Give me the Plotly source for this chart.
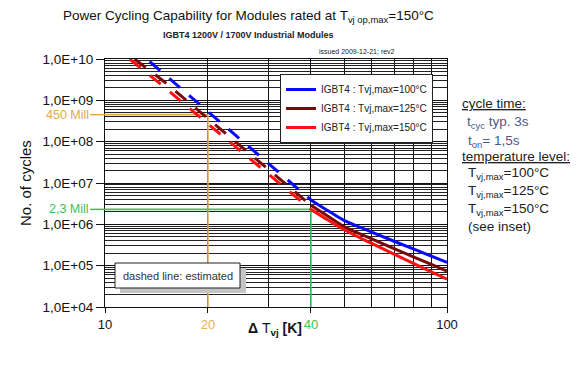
import math
import plotly.graph_objects as go

# ---------------- data ----------------
blue_est_x = [13.5, 15, 20, 25, 30, 35, 40]
blue_est_y = [8.7e9, 4.1e9, 5.4e8, 1.1e8, 3.0e7, 1.0e7, 3.9e6]
brown_est_x = [12.2, 15, 20, 25, 30, 35, 40]
brown_est_y = [1.0e10, 2.7e9, 3.6e8, 7.8e7, 2.2e7, 7.4e6, 2.9e6]
red_est_x = [11.8, 15, 20, 25, 30, 35, 40]
red_est_y = [1.0e10, 2.0e9, 2.7e8, 5.9e7, 1.7e7, 5.8e6, 2.3e6]

meas_x = [40, 45, 50, 60, 70, 80, 90, 100]
blue_y = [3.9e6, 2.1e6, 1.25e6, 6.6e5, 3.9e5, 2.5e5, 1.7e5, 1.2e5]
brown_y = [2.9e6, 1.55e6, 8.8e5, 4.5e5, 2.6e5, 1.62e5, 1.07e5, 7.4e4]
red_y = [2.3e6, 1.25e6, 7.4e5, 3.5e5, 1.9e5, 1.12e5, 7.1e4, 4.7e4]

series_names = ["IGBT4 : Tvj,max=100°C", "IGBT4 : Tvj,max=125°C", "IGBT4 : Tvj,max=150°C"]
series_colors = ["#0a0aff", "#7a0a0a", "#ff1010"]

ref_x = [20, 40]
ref_y = [4.5e8, 2.3e6]
ref_labels = ["450 Mill", "2,3 Mill"]
ref_colors = ["#e6a84a", "#3cc062"]

y_decades = [1e4, 1e5, 1e6, 1e7, 1e8, 1e9, 1e10]
y_labels = ["1,0E+04", "1,0E+05", "1,0E+06", "1,0E+07", "1,0E+08", "1,0E+09", "1,0E+10"]
x_major = [10, 20, 40, 100]
x_major_text = ["10", "<span style='color:#e6b060'>20</span>",
                "<span style='color:#3cc062'>40</span>", "100"]
x_minor = [30, 50, 60, 70, 80, 90]

# ---------------- geometry helpers (page pixel coords; body margin 8px) ----------------
OFF = 8
PL, PR, PT, PB = 105, 447, 59, 307          # plot area in page pixels
W, H = 587 - 2 * OFF, 375 - 2 * OFF
L, R, T, B = PL - OFF, PR - OFF, PT - OFF, PB - OFF
def px(x): return (x - PL) / (PR - PL)
def py(y): return (PB - y) / (PB - PT)

FONT = "Liberation Sans, Arial, sans-serif"

fig = go.Figure()

# reference lines (drawn under curves)
for k in range(2):
    fig.add_trace(go.Scatter(x=[ref_x[k], ref_x[k]], y=[1e4, ref_y[k]], mode="lines",
                             line=dict(color=ref_colors[k], width=1.6), showlegend=False,
                             hoverinfo="skip"))
    fig.add_trace(go.Scatter(x=[10, ref_x[k]], y=[ref_y[k], ref_y[k]], mode="lines",
                             line=dict(color=ref_colors[k], width=1.6), showlegend=False,
                             hoverinfo="skip"))

est = [(blue_est_x, blue_est_y), (brown_est_x, brown_est_y), (red_est_x, red_est_y)]
meas = [blue_y, brown_y, red_y]
for i in range(3):
    fig.add_trace(go.Scatter(x=est[i][0], y=est[i][1], mode="lines",
                             line=dict(color=series_colors[i], width=3, dash="14px,12px"),
                             showlegend=False, hoverinfo="skip"))
for i in range(3):
    fig.add_trace(go.Scatter(x=meas_x, y=meas[i], mode="lines", name=series_names[i],
                             line=dict(color=series_colors[i], width=3, shape="spline",
                                       smoothing=1.0)))

shapes = []
annotations = []
for k in range(2):
    shapes.append(dict(type="line", xref="paper", yref="y",
                       x0=px(90), x1=0, y0=ref_y[k], y1=ref_y[k],
                       line=dict(color=ref_colors[k], width=1.5)))
    annotations.append(dict(xref="paper", yref="y", x=px(91), y=math.log10(ref_y[k]),
                            text=ref_labels[k], showarrow=False, xanchor="right", yanchor="middle",
                            font=dict(family=FONT, size=12.5, color=ref_colors[k])))

# "dashed line: estimated" box with shadow
shapes.append(dict(type="rect", xref="paper", yref="paper", x0=px(120), x1=px(246),
                   y0=py(293), y1=py(268), fillcolor="#c4c4c4", line=dict(width=0), layer="above"))
shapes.append(dict(type="rect", xref="paper", yref="paper", x0=px(115), x1=px(240),
                   y0=py(288), y1=py(263), fillcolor="white", line=dict(color="#222", width=1),
                   layer="above"))
annotations.append(dict(xref="paper", yref="paper", x=px(177.5), y=py(275.5),
                        text="dashed line: estimated", showarrow=False, xanchor="center",
                        yanchor="middle", font=dict(family=FONT, size=11, color="#333")))

# titles
annotations.append(dict(xref="paper", yref="paper", x=px(248), y=py(17),
                        text="Power Cycling Capability for Modules rated at T<sub>vj op,max</sub>=150°C",
                        showarrow=False, xanchor="center", yanchor="middle",
                        font=dict(family=FONT, size=13.5, color="#111")))
annotations.append(dict(xref="paper", yref="paper", x=px(248), y=py(35),
                        text="<b>IGBT4 1200V / 1700V Industrial Modules</b>",
                        showarrow=False, xanchor="center", yanchor="middle",
                        font=dict(family=FONT, size=9, color="#222")))
annotations.append(dict(xref="paper", yref="paper", x=px(397), y=py(52),
                        text="issued 2009-12-21; rev2", showarrow=False, xanchor="right",
                        yanchor="middle", font=dict(family=FONT, size=7, color="#222")))
annotations.append(dict(xref="paper", yref="paper", x=px(25), y=py(183), text="No. of cycles",
                        textangle=-90, showarrow=False, xanchor="center", yanchor="middle",
                        font=dict(family=FONT, size=15, color="#111")))
annotations.append(dict(xref="paper", yref="paper", x=px(275), y=py(329),
                        text="<b>Δ</b> T<sub><b>vj</b></sub> <b>[K]</b>", showarrow=False,
                        xanchor="center", yanchor="middle",
                        font=dict(family=FONT, size=14, color="#111")))

# right-hand notes
notes = [
    (460, 104, "<u>cycle time:</u>", "#222"),
    (465, 122, "t<sub>cyc</sub> typ. 3s", "#4c5a86"),
    (466, 141, "t<sub>on</sub>= 1,5s", "#4c5a86"),
    (460, 156, "<u>temperature level:</u>", "#222"),
    (466, 173, "T<sub>vj,max</sub>=100°C", "#222"),
    (466, 191, "T<sub>vj,max</sub>=125°C", "#222"),
    (466, 209, "T<sub>vj,max</sub>=150°C", "#222"),
    (466, 226, "(see inset)", "#222"),
]
for x0, y0, t, c in notes:
    annotations.append(dict(xref="paper", yref="paper", x=px(x0), y=py(y0), text=t, showarrow=False,
                            xanchor="left", yanchor="middle",
                            font=dict(family=FONT, size=13.5, color=c)))

y_minor = [m * d for d in y_decades[:-1] for m in range(2, 10)]

fig.update_layout(
    width=W, height=H,
    margin=dict(l=L, r=W - R, t=T, b=H - B, autoexpand=False),
    paper_bgcolor="white", plot_bgcolor="white",
    font=dict(family=FONT, color="#111"),
    shapes=shapes, annotations=annotations,
    showlegend=True,
    legend=dict(x=px(280), y=py(74), xanchor="left", yanchor="top",
                bgcolor="white", bordercolor="#222", borderwidth=1,
                font=dict(family=FONT, size=10, color="#222"),
                tracegroupgap=0, itemwidth=30),
    xaxis=dict(type="log", range=[1, 2], tickmode="array", tickvals=x_major, ticktext=x_major_text,
               showgrid=True, gridcolor="#111", gridwidth=1.2,
               ticks="outside", ticklen=5, tickcolor="#111",
               showline=True, linecolor="#111", linewidth=1.2, mirror=True,
               tickfont=dict(family=FONT, size=13, color="#111"),
               minor=dict(tickmode="array", tickvals=x_minor, showgrid=True,
                          gridcolor="#111", gridwidth=1.2, ticks=""),
               zeroline=False, fixedrange=True),
    yaxis=dict(type="log", range=[4, 10], tickmode="array", tickvals=y_decades, ticktext=y_labels,
               showgrid=True, gridcolor="#111", gridwidth=1.2,
               ticks="outside", ticklen=8, tickcolor="#111",
               showline=True, linecolor="#111", linewidth=1.2, mirror=True,
               tickfont=dict(family=FONT, size=13.5, color="#111"),
               minor=dict(tickmode="array", tickvals=y_minor, showgrid=True,
                          gridcolor="#222", gridwidth=1, ticks=""),
               zeroline=False, fixedrange=True),
)

fig.write_html("out.html")
